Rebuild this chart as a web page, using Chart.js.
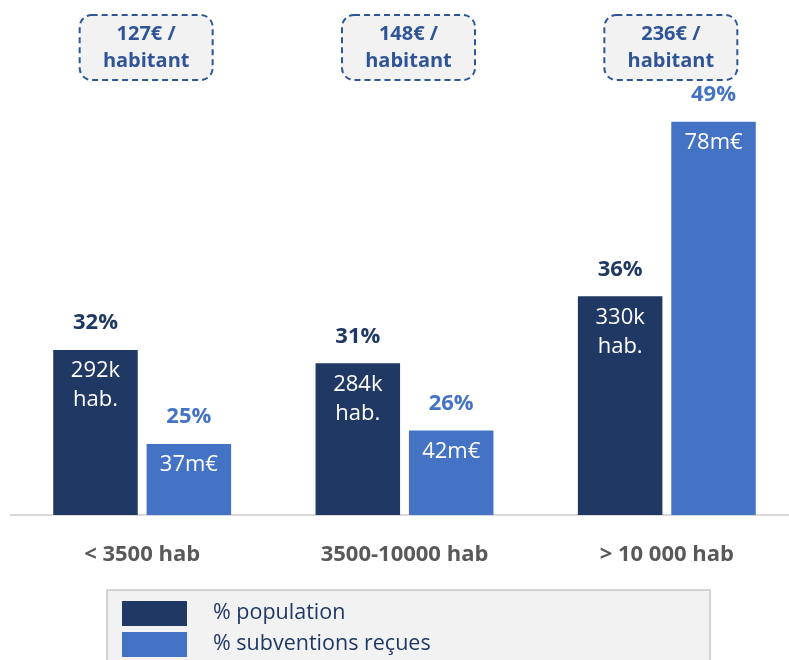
<!DOCTYPE html>
<html>
<head>
<meta charset="utf-8">
<script src="https://cdn.jsdelivr.net/npm/chart.js@4.4.1/dist/chart.umd.min.js"></script>
<style>
  html, body { margin: 0; padding: 0; background: #fff; overflow: hidden; }
  #frame { width: 789px; height: 660px; overflow: hidden; position: relative; }
  #box { width: 800px; height: 660px; position: absolute; left: 0; top: 0; }
</style>
</head>
<body>
<div id="frame"><div id="box"><canvas id="chart"></canvas></div></div>
<script>
// données
const categories = ['< 3500 hab', '3500-10000 hab', '> 10 000 hab'];
const partPopulation = [32, 31, 36];
const partSubventions = [25, 26, 49];
const etiquettesPopulation = [['292k', 'hab.'], ['284k', 'hab.'], ['330k', 'hab.']];
const etiquettesSubventions = [['37m€'], ['42m€'], ['78m€']];
const parHabitant = [['127€ /', 'habitant'], ['148€ /', 'habitant'], ['236€ /', 'habitant']];
const serieNoms = ['% population', '% subventions reçues'];

const FONT = "'Open Sans', 'Noto Sans', sans-serif";
const BLEU_FONCE = '#203864';
const BLEU = '#4472c4';

function roundRect(ctx, x, y, w, h, r) {
    ctx.beginPath();
    ctx.moveTo(x + r, y);
    ctx.lineTo(x + w - r, y);
    ctx.arcTo(x + w, y, x + w, y + r, r);
    ctx.lineTo(x + w, y + h - r);
    ctx.arcTo(x + w, y + h, x + w - r, y + h, r);
    ctx.lineTo(x + r, y + h);
    ctx.arcTo(x, y + h, x, y + h - r, r);
    ctx.lineTo(x, y + r);
    ctx.arcTo(x, y, x + r, y, r);
    ctx.closePath();
}

const etiquettesPlugin = {
    id: 'etiquettes',
    afterDatasetsDraw(chart) {
        const ctx = chart.ctx;
        const pcts = [partPopulation, partSubventions];
        const inner = [etiquettesPopulation, etiquettesSubventions];
        const couleurs = [BLEU_FONCE, BLEU];
        ctx.save();
        ctx.textAlign = 'center';
        ctx.textBaseline = 'middle';
        [0, 1].forEach(d => {
            chart.getDatasetMeta(d).data.forEach((bar, i) => {
                ctx.fillStyle = couleurs[d];
                ctx.font = `bold 22px ${FONT}`;
                ctx.fillText(pcts[d][i] + '%', bar.x, bar.y - 27);
                ctx.fillStyle = '#ffffff';
                ctx.font = `22px ${FONT}`;
                inner[d][i].forEach((ligne, k) => {
                    ctx.fillText(ligne, bar.x, bar.y + 21 + k * 29);
                });
            });
        });

        // encadrés par habitant
        const xs = chart.scales.x;
        parHabitant.forEach((lignes, i) => {
            const cx = xs.getPixelForValue(i) + 4;
            const w = 133, h = 65, y = 15;
            roundRect(ctx, cx - w / 2, y, w, h, 12);
            ctx.fillStyle = '#f2f2f2';
            ctx.fill();
            ctx.setLineDash([6, 4]);
            ctx.lineWidth = 2;
            ctx.strokeStyle = '#2f5597';
            ctx.stroke();
            ctx.setLineDash([]);
            ctx.fillStyle = '#2f5597';
            ctx.font = `bold 20px ${FONT}`;
            lignes.forEach((l, k) => ctx.fillText(l, cx, y + 19 + k * 27));
        });

        // légende
        ctx.fillStyle = '#f2f2f2';
        ctx.fillRect(107, 590, 603, 80);
        ctx.strokeStyle = '#c8c8c8';
        ctx.lineWidth = 1.5;
        ctx.strokeRect(107, 590, 603, 80);
        ctx.textAlign = 'left';
        ctx.font = `21.5px ${FONT}`;
        serieNoms.forEach((nom, k) => {
            ctx.fillStyle = couleurs[k];
            ctx.fillRect(122, 601 + k * 31, 65, 25);
            ctx.fillStyle = BLEU_FONCE;
            ctx.fillText(nom, 213, 613 + k * 31);
        });
        ctx.restore();
    }
};

new Chart(document.getElementById('chart'), {
    type: 'bar',
    data: {
        labels: categories,
        datasets: [{
            label: serieNoms[0],
            data: partPopulation,
            backgroundColor: BLEU_FONCE,
            categoryPercentage: 0.712,
            barPercentage: 0.905
        }, {
            label: serieNoms[1],
            data: partSubventions,
            backgroundColor: BLEU,
            categoryPercentage: 0.712,
            barPercentage: 0.905
        }]
    },
    options: {
        responsive: true,
        maintainAspectRatio: false,
        animation: false,
        layout: {
            padding: { top: 95, left: 11, right: 2, bottom: 0 }
        },
        plugins: {
            legend: { display: false },
            tooltip: { enabled: false }
        },
        scales: {
            y: {
                display: false,
                min: 19.7,
                max: 51
            },
            x: {
                grid: { display: false },
                border: { display: true, color: '#d9d9d9', width: 2 },
                ticks: {
                    color: '#595959',
                    padding: 19,
                    font: { family: FONT, size: 22, weight: 'bold' }
                },
                afterFit(scale) {
                    scale.height = 145;
                }
            }
        }
    },
    plugins: [etiquettesPlugin]
});
</script>
</body>
</html>
